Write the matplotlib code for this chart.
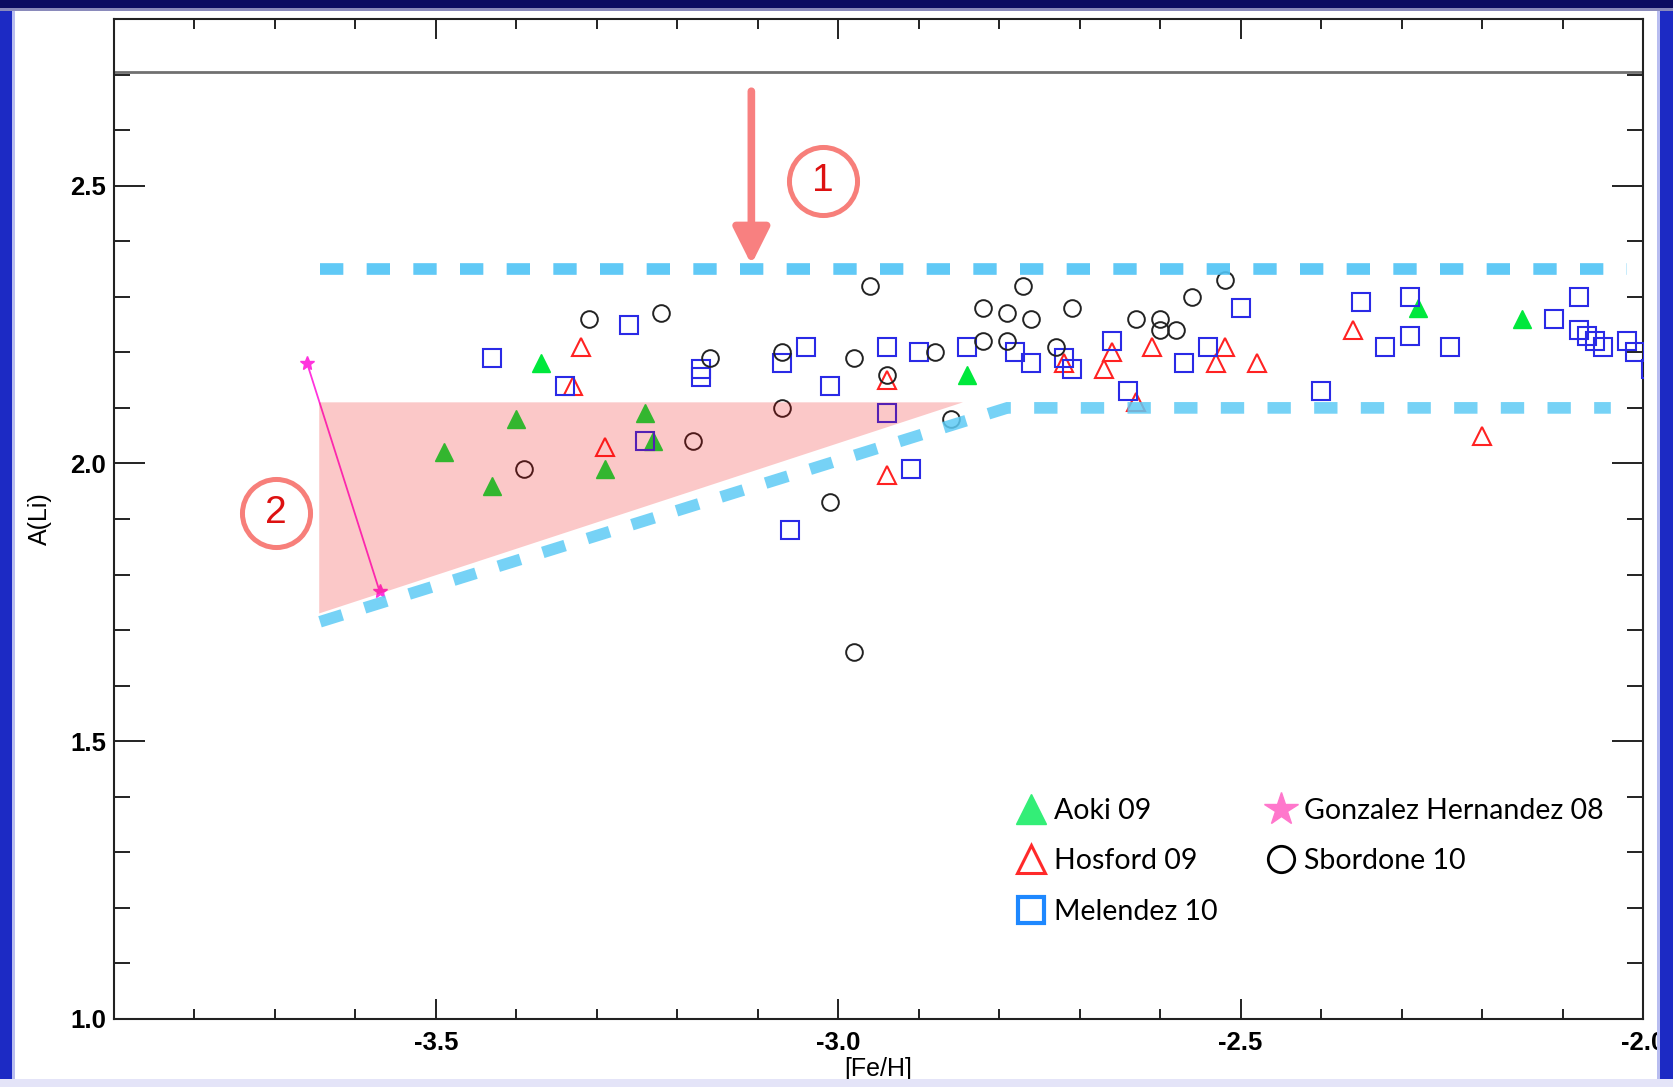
import matplotlib
matplotlib.use("Agg")
import matplotlib.pyplot as plt
from matplotlib.lines import Line2D
from matplotlib.patches import Rectangle
from matplotlib.ticker import MultipleLocator, FormatStrFormatter

# A(Li) vs [Fe/H] for metal-poor dwarfs
aoki_feh = [-3.49, -3.43, -3.40, -3.37, -3.29, -3.24, -3.23, -2.84, -2.28, -2.15]
aoki_li = [2.02, 1.96, 2.08, 2.18, 1.99, 2.09, 2.04, 2.16, 2.28, 2.26]

hosford_feh = [-3.32, -3.33, -3.29, -2.94, -2.94, -2.72, -2.66, -2.67, -2.61, -2.63,
               -2.53, -2.52, -2.48, -2.36, -2.20]
hosford_li = [2.21, 2.14, 2.03, 2.15, 1.98, 2.18, 2.20, 2.17, 2.21, 2.11,
              2.18, 2.21, 2.18, 2.24, 2.05]

melendez_feh = [-3.43, -3.34, -3.26, -3.24, -3.17, -3.17, -3.07, -3.04, -3.01, -3.06,
                -2.94, -2.94, -2.91, -2.90, -2.84, -2.78, -2.76, -2.72, -2.71, -2.66,
                -2.64, -2.57, -2.54, -2.50, -2.40, -2.35, -2.32, -2.29, -2.29, -2.24,
                -2.11, -2.08, -2.08, -2.07, -2.06, -2.05, -2.02, -2.01, -1.99]
melendez_li = [2.19, 2.14, 2.25, 2.04, 2.17, 2.155, 2.18, 2.21, 2.14, 1.88,
               2.21, 2.09, 1.99, 2.20, 2.21, 2.20, 2.18, 2.19, 2.17, 2.22,
               2.13, 2.18, 2.21, 2.28, 2.13, 2.29, 2.21, 2.30, 2.23, 2.21,
               2.26, 2.30, 2.24, 2.23, 2.22, 2.21, 2.22, 2.20, 2.17]

sbordone_feh = [-3.39, -3.31, -3.22, -3.18, -3.16, -3.07, -3.07, -3.01, -2.98, -2.98,
                -2.96, -2.94, -2.88, -2.86, -2.82, -2.82, -2.79, -2.79, -2.77, -2.76,
                -2.73, -2.71, -2.63, -2.60, -2.60, -2.58, -2.56, -2.52]
sbordone_li = [1.99, 2.26, 2.27, 2.04, 2.19, 2.20, 2.10, 1.93, 2.19, 1.66,
               2.32, 2.16, 2.20, 2.08, 2.28, 2.22, 2.27, 2.22, 2.32, 2.26,
               2.21, 2.28, 2.26, 2.26, 2.24, 2.24, 2.30, 2.33]

# binary CS 22876-032, the two components joined by a line
gonzalez_feh = [-3.66, -3.57]
gonzalez_li = [2.18, 1.77]

# plateau / envelope guides
plateau_x = [-3.644, -2.02]
plateau_y = [2.35, 2.35]
lower_x = [-3.644, -2.79, -2.04]
lower_y = [1.715, 2.10, 2.10]
wedge_x = [-3.645, -2.845, -3.645]
wedge_y = [2.11, 2.11, 1.73]
ref_line = 2.705

arrow_x = -3.108
arrow_from, arrow_to = 2.67, 2.358
marks = [("1", -3.019, 2.509), ("2", -3.699, 1.911)]

fig = plt.figure(figsize=(16.73, 10.87), dpi=100, facecolor="white")
ax = fig.add_axes([114 / 1673, 68 / 1087, 1529 / 1673, 1000 / 1087])

ax.axhline(ref_line, color="#707070", lw=2.0, zorder=1)

ax.plot(aoki_feh, aoki_li, ls="none", marker="^", ms=12.5, mfc="#00e83c", mec="#00e83c", zorder=3)
ax.plot(hosford_feh, hosford_li, ls="none", marker="^", ms=12.5, mfc="none", mec="#ff2222", mew=1.5, zorder=3)
ax.plot(melendez_feh, melendez_li, ls="none", marker="s", ms=12.5, mfc="none", mec="#2a2ae6", mew=1.5, zorder=3)
ax.plot(sbordone_feh, sbordone_li, ls="none", marker="o", ms=12, mfc="none", mec="#222222", mew=1.4, zorder=3)
ax.plot(gonzalez_feh, gonzalez_li, color="#ff33dd", lw=1.3, marker="*", ms=10, zorder=4)

ax.fill(wedge_x, wedge_y, color="#f10000", alpha=0.216, lw=0, zorder=4)

ax.plot(plateau_x, plateau_y, color="#4fc3f5", lw=8.4, dashes=(2, 2), alpha=0.9,
        solid_capstyle="butt", dash_capstyle="butt", zorder=5)
ax.plot(lower_x, lower_y, color="#5ecbf5", lw=8.4, dashes=(2, 2), alpha=0.85,
        dash_capstyle="butt", dash_joinstyle="miter", zorder=5)

ax.annotate("", xy=(arrow_x, arrow_to), xytext=(arrow_x, arrow_from),
            arrowprops=dict(arrowstyle="-|>,head_length=2.2,head_width=1.1",
                            color="#f88080", lw=5.5, shrinkA=0, shrinkB=0), zorder=6)

for label, mx, my in marks:
    ax.plot([mx], [my], ls="none", marker="o", ms=49, mfc="white", mec="#f77f7a", mew=3.6, zorder=6)
    ax.text(mx, my, label, color="#dd1111", fontsize=28, ha="center", va="center",
            family="Liberation Sans", zorder=7)

ax.set_xlim(-3.9, -2.0)
ax.set_ylim(1.0, 2.8)
ax.set_xticks([-3.5, -3.0, -2.5, -2.0])
ax.set_yticks([1.0, 1.5, 2.0, 2.5])
ax.xaxis.set_minor_locator(MultipleLocator(0.1))
ax.yaxis.set_minor_locator(MultipleLocator(0.1))
ax.xaxis.set_major_formatter(FormatStrFormatter("%.1f"))
ax.yaxis.set_major_formatter(FormatStrFormatter("%.1f"))

ax.tick_params(which="both", direction="in", top=True, right=True, width=1.4, color="#222222")
ax.tick_params(axis="x", which="major", length=14.4, pad=9, labelsize=18.5)
ax.tick_params(axis="x", which="minor", length=7.2)
ax.tick_params(axis="y", which="major", length=22.3, pad=5.5, labelsize=18.5)
ax.tick_params(axis="y", which="minor", length=11.2)
for lab in ax.get_xticklabels() + ax.get_yticklabels():
    lab.set_family("Liberation Sans")
    lab.set_fontweight("bold")
for sp in ax.spines.values():
    sp.set_linewidth(1.5)
    sp.set_color("#222222")

ax.set_xlabel("[Fe/H]", fontsize=18, family="Liberation Sans", labelpad=1)
ax.set_ylabel("A(Li)", fontsize=18, family="Liberation Sans", labelpad=13)

handles = [
    Line2D([], [], ls="none", marker="^", ms=22, mfc="#33ee77", mec="#33ee77"),
    Line2D([], [], ls="none", marker="^", ms=20, mfc="none", mec="#ff2a2a", mew=2.2),
    Line2D([], [], ls="none", marker="s", ms=19, mfc="none", mec="#1e88ff", mew=3),
    Line2D([], [], ls="none", marker="*", ms=25, mfc="#ff77cc", mec="#ff77cc"),
    Line2D([], [], ls="none", marker="o", ms=19, mfc="none", mec="black", mew=2),
]
names = ["Aoki 09", "Hosford 09", "Melendez 10", "Gonzalez Hernandez 08", "Sbordone 10"]
ax.legend(handles, names, ncol=2, loc="upper left", bbox_to_anchor=(0.581, 0.235),
          frameon=False, borderpad=0, handlelength=1.0, handletextpad=0.3,
          columnspacing=1.75, labelspacing=0.85, prop={"family": "Lato", "size": 20.5})

# slide frame around the picture
W, H = 1673, 1087
frame = [
    (0, 0, 12, H, "#1c2ac4"), (12, 0, 3, H, "#b8bdf0"),
    (W - 13, 0, 13, H, "#1c2ac4"), (W - 16, 0, 3, H, "#b8bdf0"),
    (0, H - 8, W, 8, "#0c0c62"), (0, H - 11, W, 3, "#8a8abb"),
    (0, 0, W, 8, "#e4e4f8"),
]
for x0, y0, w, h, c in frame:
    fig.patches.append(Rectangle((x0 / W, y0 / H), w / W, h / H, transform=fig.transFigure,
                                 color=c, lw=0, zorder=10))

fig.savefig("out.png", dpi=100, facecolor="white")
